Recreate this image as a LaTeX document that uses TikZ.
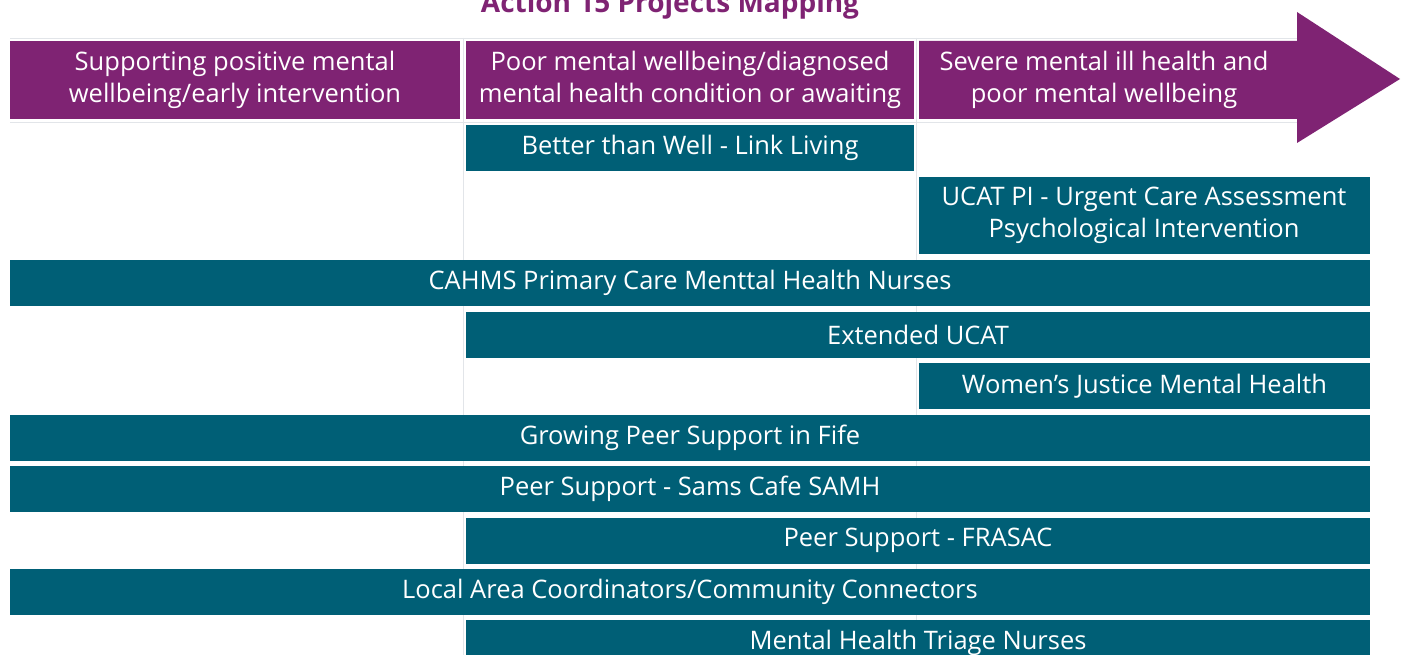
\documentclass[tikz,border=0pt]{standalone}
\usepackage{fontspec}
\setmainfont{Open Sans}
\definecolor{hdrpurple}{RGB}{127,35,115}
\definecolor{barteal}{RGB}{0,95,118}
\definecolor{gridgray}{RGB}{226,229,233}
\begin{document}
\begin{tikzpicture}[x=1pt,y=-1pt,
  lbl/.style={font=\fontsize{25.5}{32}\selectfont, text=white, align=center, inner sep=0pt},
  hdr/.style={fill=hdrpurple, lbl, minimum height=78pt},
  bar/.style={fill=barteal, lbl, minimum height=46pt},
  grid/.style={draw=gridgray, line width=0.8pt}]
\useasboundingbox (0,0) rectangle (1405,655);
\fill[white] (0,0) rectangle (1405,655);

% faint table grid between the cells
\draw[grid] (463,38) -- (463,655);
\draw[grid] (916.5,38) -- (916.5,655);
\draw[grid] (10,38) -- (1297,38);
\draw[grid] (10,122) -- (1297,122);

% title
\node[anchor=base, text=hdrpurple, font=\bfseries\fontsize{28}{32}\selectfont, inner sep=0pt] (title) at (670,12.5) {Action 15 Projects Mapping};

% stage headers
\node[hdr, minimum width=450pt] (h1) at (235,80) {Supporting positive mental\\wellbeing/early intervention};
\node[hdr, minimum width=448pt] (h2) at (690,80) {Poor mental wellbeing/diagnosed\\mental health condition or awaiting};
\fill[hdrpurple] (919,41) -- (1297,41) -- (1297,12) -- (1400,79) -- (1297,143) -- (1297,119) -- (919,119) -- cycle;
\node[lbl] (h3) at (1104,80) {Severe mental ill health and\\poor mental wellbeing};

% projects
\node[bar, minimum width=448pt] (p1) at (690,148) {Better than Well - Link Living};
\node[bar, minimum width=451pt, minimum height=77pt] (p2) at (1144,215.5) {UCAT PI - Urgent Care Assessment\\Psychological Intervention};
\node[bar, minimum width=1360pt] (p3) at (690,283) {CAHMS Primary Care Menttal Health Nurses};
\node[bar, minimum width=904pt] (p4) at (918,334.5) {Extended UCAT};
\node[bar, minimum width=451pt] (p5) at (1144.5,386) {Women’s Justice Mental Health};
\node[bar, minimum width=1360pt] (p6) at (690,437.5) {Growing Peer Support in Fife};
\node[bar, minimum width=1360pt] (p7) at (690,489) {Peer Support - Sams Cafe SAMH};
\node[bar, minimum width=904pt] (p8) at (918,540.5) {Peer Support - FRASAC};
\node[bar, minimum width=1360pt] (p9) at (690,591.5) {Local Area Coordinators/Community Connectors};
\node[bar, minimum width=904pt] (p10) at (918,643) {Mental Health Triage Nurses};
\end{tikzpicture}
\end{document}
